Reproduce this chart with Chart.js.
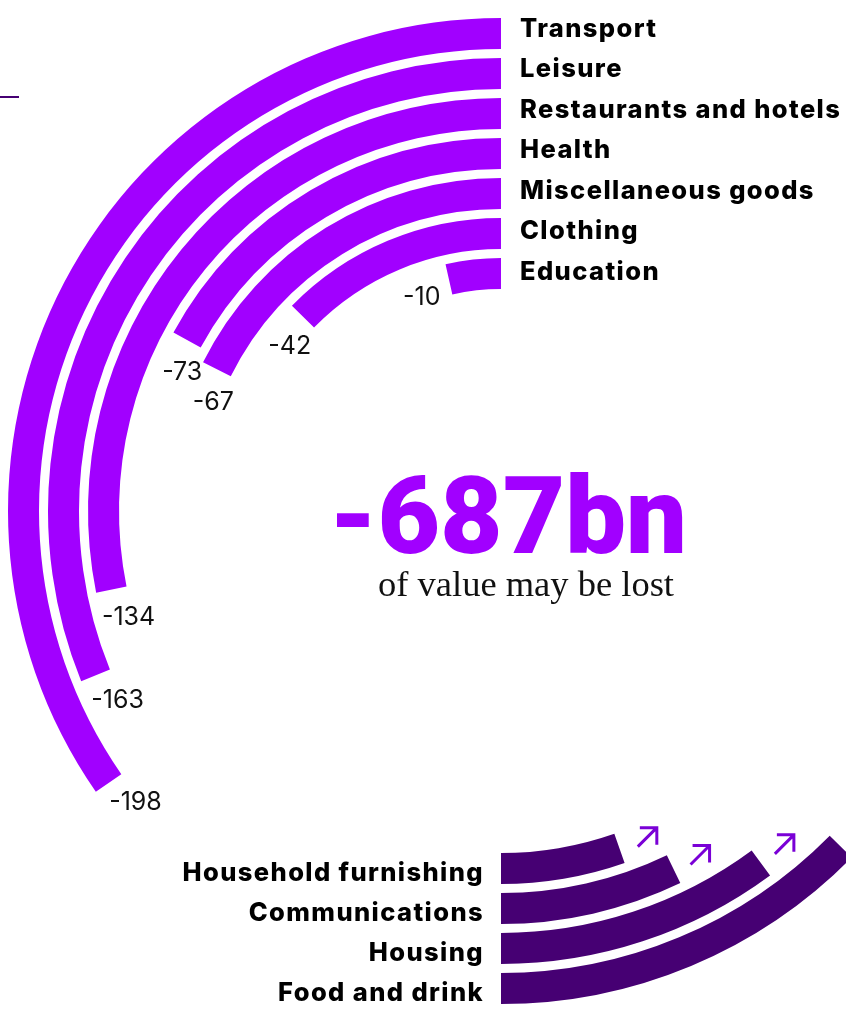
<!DOCTYPE html>
<html>
<head>
<meta charset="utf-8">
<script src="https://cdn.jsdelivr.net/npm/chart.js@4"></script>
<style>
  html, body { margin: 0; padding: 0; background: #fff; overflow: hidden; }
  #wrap { width: 846px; height: 1010px; overflow: hidden; position: relative; }
  #myChart { position: absolute; left: 0; top: 0; }
</style>
</head>
<body>
<div id="wrap"><canvas id="myChart" width="1000" height="1010"></canvas></div>
<script>
// spending categories losing value (bn), outer ring first
const lossCategories = ['Transport', 'Leisure', 'Restaurants and hotels', 'Health', 'Miscellaneous goods', 'Clothing', 'Education'];
const lossValues = [-198, -163, -134, -73, -67, -42, -10];
// categories gaining value (bn), outer ring first
const gainCategories = ['Food and drink', 'Housing', 'Communications', 'Household furnishing'];
const gainValues = [72, 53, 34, 23];
const subtitle = 'of value may be lost';

const LOSS_COLOR = '#A100FF';
const GAIN_COLOR = '#460073';
const ARROW_COLOR = '#7A00D6';
const CLEAR = 'rgba(0,0,0,0)';

// ring geometry in px
const OUTER = 493, INNER = 222, BAR = 31, GAP = 9;
const PX_PER_BN = 5.25; // arc length per bn along the middle of a ring

function ringMid(i) { return OUTER - i * (BAR + GAP) - BAR / 2; }

// each ring: [pad, gain, pad, loss] clockwise from the top,
// so the gain ends at 6 o'clock and the loss ends at 12 o'clock
const datasets = [];
lossValues.forEach((v, i) => {
  const loss = Math.abs(v);
  const gain = gainValues[i] || 0;
  const half = Math.PI * ringMid(i) / PX_PER_BN;
  datasets.push({
    label: lossCategories[i],
    data: [half - gain, gain, half - loss, loss],
    backgroundColor: [CLEAR, GAIN_COLOR, CLEAR, LOSS_COLOR],
    weight: BAR
  });
  if (i < lossValues.length - 1) {
    datasets.push({ label: '', data: [1], backgroundColor: CLEAR, weight: GAP });
  }
});

const totalLoss = lossValues.reduce((a, b) => a + b, 0);

function drawArrow(ctx, x, y) {
  const s = 9.5;
  ctx.beginPath();
  ctx.moveTo(x - s, y + s);
  ctx.lineTo(x + s, y - s);
  ctx.moveTo(x - s + 2, y - s);
  ctx.lineTo(x + s, y - s);
  ctx.lineTo(x + s, y + s - 2);
  ctx.stroke();
}

function setLabelFont(ctx) {
  ctx.font = '800 25.5px Inter';
  ctx.letterSpacing = '1.4px';
}

const labelsPlugin = {
  id: 'ringLabels',
  afterDraw(chart) {
    const ctx = chart.ctx;
    ctx.save();

    // small rule at the top left
    ctx.fillStyle = GAIN_COLOR;
    ctx.fillRect(0, 96, 19, 2);

    lossValues.forEach((v, i) => {
      const meta = chart.getDatasetMeta(i * 2);
      const arc = meta.data[3];
      const r = (arc.innerRadius + arc.outerRadius) / 2;

      // category name right of the ring start
      ctx.fillStyle = '#000';
      setLabelFont(ctx);
      ctx.textAlign = 'left';
      ctx.textBaseline = 'alphabetic';
      ctx.fillText(lossCategories[i], arc.x + 19, 36.7 + 40.55 * i);

      // value just past the end of the bar
      const a = arc.startAngle - 32 / r;
      const lr = r - 10;
      ctx.fillStyle = '#111';
      ctx.font = '400 25px Inter';
      ctx.letterSpacing = '0px';
      ctx.textAlign = 'center';
      ctx.textBaseline = 'middle';
      ctx.fillText(String(v), arc.x + lr * Math.cos(a), arc.y + lr * Math.sin(a));
    });

    gainValues.forEach((v, i) => {
      const meta = chart.getDatasetMeta(i * 2);
      const arc = meta.data[1];
      const r = (arc.innerRadius + arc.outerRadius) / 2;

      ctx.fillStyle = '#000';
      setLabelFont(ctx);
      ctx.textAlign = 'right';
      ctx.textBaseline = 'alphabetic';
      ctx.fillText(gainCategories[i], arc.x - 17, arc.y + r + 12);

      const a = arc.startAngle - 30 / r;
      ctx.strokeStyle = ARROW_COLOR;
      ctx.lineWidth = 3;
      drawArrow(ctx, arc.x + r * Math.cos(a), arc.y + r * Math.sin(a));
    });

    // headline total
    ctx.letterSpacing = '0px';
    ctx.fillStyle = LOSS_COLOR;
    ctx.font = '900 108px Roboto';
    ctx.textAlign = 'center';
    ctx.textBaseline = 'alphabetic';
    ctx.fillText(totalLoss + 'bn', 508, 552.7);

    ctx.fillStyle = '#111';
    ctx.font = '400 36.5px "Liberation Serif"';
    ctx.fillText(subtitle, 526, 596);
    ctx.restore();
  }
};

const ctx = document.getElementById('myChart');
const myChart = new Chart(ctx, {
  type: 'doughnut',
  data: {
    labels: ['', '', '', ''],
    datasets: datasets
  },
  options: {
    responsive: false,
    animation: false,
    devicePixelRatio: 1,
    cutout: INNER,
    rotation: 0,
    circumference: 360,
    borderWidth: 0,
    hoverOffset: 0,
    offset: 0,
    spacing: 0,
    layout: { padding: { left: 8, right: 6, top: 18, bottom: 6 } },
    events: [],
    plugins: {
      legend: { display: false },
      tooltip: { enabled: false }
    }
  },
  plugins: [labelsPlugin]
});
</script>
</body>
</html>
